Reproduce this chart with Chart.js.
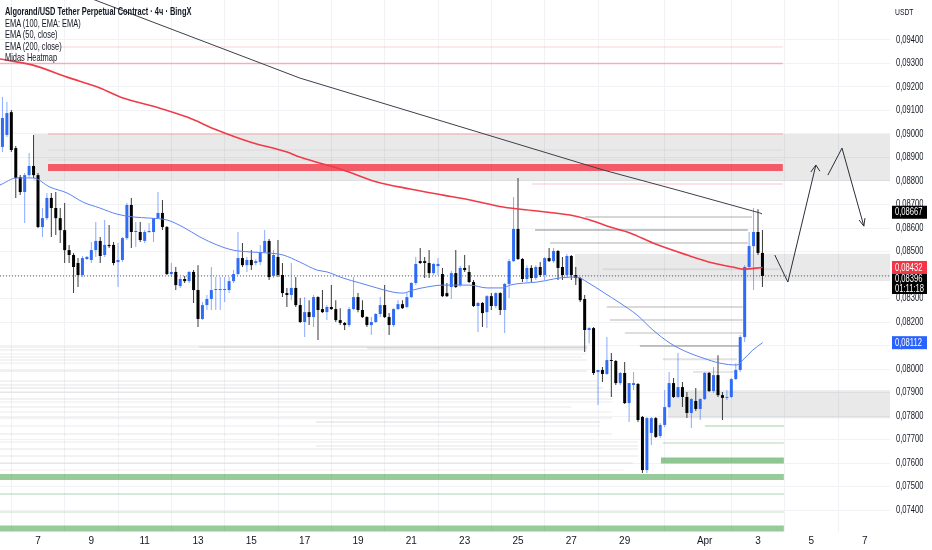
<!DOCTYPE html>
<html><head><meta charset="utf-8">
<script src="https://cdn.jsdelivr.net/npm/chart.js@4.4.1/dist/chart.umd.min.js"></script>
<style>
html,body{margin:0;padding:0;background:#fff;}
#wrap{position:relative;width:932px;height:550px;overflow:hidden;}
canvas{position:absolute;left:0;top:0;}
#legend{position:absolute;left:5px;top:6px;font-family:'Liberation Sans',Arial,sans-serif;font-size:10.2px;line-height:11.6px;color:#131722;transform:scaleX(0.73);transform-origin:0 0;white-space:nowrap;}
#legend .ttl{font-weight:bold;}
#usdt{position:absolute;left:895px;top:7px;font-family:'Liberation Sans',Arial,sans-serif;font-size:8.5px;color:#131722;transform:scaleX(0.8);transform-origin:0 0;}
</style></head>
<body><div id="wrap"><canvas id="c" width="932" height="550"></canvas>
<div id="legend">
<div class="ttl">Algorand/USD Tether Perpetual Contract · 4ч · BingX</div>
<div>EMA (100, EMA: EMA)</div>
<div>EMA (50, close)</div>
<div>EMA (200, close)</div>
<div>Midas Heatmap</div>
</div>
<div id="usdt">USDT</div>
</div>
<script>
// ---------- DATA ----------
// 4h candles, first candle opens at day 5.5 of March (x axis unit = day of March; Apr 1 = 32)
const firstCandleDay = 5.5;
const candleHours = 4;
const opens = [
0.08923,0.08945,0.08996,0.09093,0.08940,0.08817,0.08753,0.08825,0.08864,0.08825,
0.08604,0.08642,0.08728,0.08685,0.08642,0.08591,0.08506,0.08485,0.08451,0.08400,
0.08468,0.08464,0.08506,0.08545,0.08485,0.08528,0.08528,0.08455,0.08464,0.08557,
0.08698,0.08583,0.08583,0.08545,0.08583,0.08583,0.08642,0.08664,0.08604,0.08404,
0.08413,0.08353,0.08383,0.08374,0.08413,0.08336,0.08213,0.08272,0.08298,0.08336,
0.08336,0.08336,0.08336,0.08374,0.08404,0.08472,0.08442,0.08464,0.08451,0.08455,
0.08498,0.08545,0.08396,0.08477,0.08400,0.08323,0.08315,0.08345,0.08272,0.08200,
0.08242,0.08221,0.08306,0.08255,0.08242,0.08264,0.08255,0.08208,0.08196,0.08187,
0.08255,0.08306,0.08251,0.08221,0.08187,0.08200,0.08234,0.08272,0.08221,0.08187,
0.08255,0.08276,0.08264,0.08306,0.08366,0.08459,0.08459,0.08451,0.08408,0.08438,
0.08404,0.08323,0.08349,0.08408,0.08357,0.08430,0.08413,0.08370,0.08268,0.08281,
0.08242,0.08310,0.08268,0.08323,0.08251,0.08362,0.08459,0.08596,0.08468,0.08383,
0.08430,0.08387,0.08434,0.08400,0.08472,0.08459,0.08502,0.08434,0.08400,0.08481,
0.08400,0.08387,0.08298,0.08166,0.08174,0.07987,0.07996,0.07979,0.08038,0.08034,
0.07940,0.07983,0.07855,0.07932,0.07936,0.07796,0.07570,0.07728,0.07791,0.07715,
0.07762,0.07838,0.07940,0.07881,0.07923,0.07881,0.07813,0.07864,0.07830,0.07872,
0.07983,0.07906,0.07974,0.07889,0.07877,0.07881,0.07957,0.07996,0.08136,0.08434,
0.08523,0.08583,0.08494];
const highs = [
0.08996,0.09157,0.09136,0.09102,0.08949,0.08825,0.08834,0.08919,0.08996,0.08834,
0.08685,0.08749,0.08749,0.08753,0.08685,0.08706,0.08528,0.08494,0.08472,0.08481,
0.08481,0.08540,0.08625,0.08562,0.08634,0.08613,0.08540,0.08536,0.08562,0.08706,
0.08728,0.08625,0.08625,0.08591,0.08621,0.08642,0.08753,0.08719,0.08608,0.08451,
0.08434,0.08391,0.08396,0.08417,0.08421,0.08442,0.08285,0.08315,0.08434,0.08391,
0.08391,0.08391,0.08391,0.08421,0.08583,0.08536,0.08477,0.08506,0.08468,0.08528,
0.08591,0.08553,0.08506,0.08549,0.08451,0.08345,0.08451,0.08391,0.08302,0.08306,
0.08293,0.08315,0.08310,0.08336,0.08272,0.08357,0.08293,0.08259,0.08200,0.08264,
0.08391,0.08323,0.08293,0.08225,0.08221,0.08238,0.08306,0.08357,0.08238,0.08259,
0.08293,0.08293,0.08323,0.08370,0.08477,0.08515,0.08477,0.08506,0.08451,0.08472,
0.08430,0.08366,0.08417,0.08506,0.08438,0.08485,0.08442,0.08379,0.08285,0.08285,
0.08315,0.08323,0.08327,0.08327,0.08366,0.08468,0.08732,0.08813,0.08472,0.08442,
0.08442,0.08442,0.08455,0.08477,0.08515,0.08515,0.08506,0.08477,0.08489,0.08485,
0.08434,0.08391,0.08315,0.08179,0.08179,0.07996,0.08008,0.08136,0.08068,0.08038,
0.07987,0.08030,0.07940,0.07987,0.07940,0.07800,0.07796,0.07796,0.07796,0.07770,
0.07911,0.07987,0.07962,0.08068,0.07945,0.07902,0.07877,0.07919,0.07877,0.07987,
0.07987,0.08008,0.08059,0.07902,0.07911,0.07962,0.08025,0.08145,0.08442,0.08583,
0.08685,0.08680,0.08591];
const lows = [
0.08889,0.08923,0.08987,0.08923,0.08728,0.08740,0.08621,0.08817,0.08813,0.08600,
0.08562,0.08634,0.08562,0.08570,0.08536,0.08451,0.08451,0.08323,0.08349,0.08391,
0.08464,0.08451,0.08477,0.08451,0.08477,0.08515,0.08442,0.08349,0.08455,0.08549,
0.08515,0.08519,0.08540,0.08536,0.08579,0.08540,0.08638,0.08591,0.08400,0.08391,
0.08336,0.08345,0.08366,0.08366,0.08281,0.08179,0.08208,0.08251,0.08251,0.08251,
0.08251,0.08285,0.08323,0.08366,0.08400,0.08434,0.08413,0.08421,0.08442,0.08442,
0.08494,0.08379,0.08387,0.08391,0.08306,0.08264,0.08293,0.08264,0.08196,0.08136,
0.08187,0.08179,0.08123,0.08238,0.08208,0.08251,0.08200,0.08187,0.08166,0.08179,
0.08251,0.08242,0.08217,0.08179,0.08145,0.08196,0.08221,0.08217,0.08145,0.08179,
0.08251,0.08255,0.08259,0.08302,0.08357,0.08447,0.08387,0.08387,0.08400,0.08400,
0.08306,0.08306,0.08298,0.08345,0.08349,0.08413,0.08366,0.08264,0.08157,0.08179,
0.08174,0.08251,0.08259,0.08230,0.08153,0.08302,0.08455,0.08464,0.08370,0.08370,
0.08370,0.08379,0.08391,0.08379,0.08455,0.08451,0.08379,0.08379,0.08387,0.08379,
0.08357,0.08285,0.08072,0.08110,0.07974,0.07847,0.07945,0.07974,0.07881,0.07932,
0.07932,0.07851,0.07774,0.07911,0.07774,0.07557,0.07557,0.07677,0.07706,0.07706,
0.07753,0.07834,0.07877,0.07877,0.07838,0.07791,0.07749,0.07821,0.07783,0.07868,
0.07902,0.07898,0.07881,0.07783,0.07868,0.07877,0.07953,0.07987,0.08115,0.08430,
0.08336,0.08485,0.08349];
const closes = [
0.08974,0.09068,0.09089,0.08932,0.08813,0.08753,0.08825,0.08864,0.08825,0.08604,
0.08642,0.08728,0.08685,0.08642,0.08591,0.08506,0.08485,0.08434,0.08400,0.08472,
0.08477,0.08506,0.08545,0.08481,0.08528,0.08523,0.08451,0.08464,0.08557,0.08698,
0.08583,0.08587,0.08549,0.08583,0.08587,0.08642,0.08664,0.08604,0.08404,0.08413,
0.08357,0.08383,0.08374,0.08413,0.08336,0.08213,0.08272,0.08298,0.08336,0.08340,
0.08340,0.08340,0.08374,0.08404,0.08472,0.08442,0.08464,0.08442,0.08459,0.08498,
0.08545,0.08391,0.08485,0.08400,0.08323,0.08315,0.08345,0.08272,0.08200,0.08242,
0.08221,0.08306,0.08251,0.08242,0.08264,0.08255,0.08208,0.08196,0.08187,0.08255,
0.08306,0.08251,0.08221,0.08187,0.08200,0.08234,0.08272,0.08221,0.08187,0.08255,
0.08276,0.08259,0.08306,0.08366,0.08447,0.08451,0.08451,0.08408,0.08447,0.08447,
0.08310,0.08310,0.08408,0.08349,0.08430,0.08421,0.08370,0.08268,0.08281,0.08238,
0.08310,0.08268,0.08323,0.08251,0.08362,0.08459,0.08596,0.08468,0.08383,0.08430,
0.08387,0.08434,0.08400,0.08472,0.08459,0.08502,0.08430,0.08400,0.08481,0.08400,
0.08387,0.08293,0.08166,0.08174,0.07983,0.07996,0.07979,0.08038,0.08034,0.07940,
0.07983,0.07855,0.07940,0.07940,0.07783,0.07570,0.07791,0.07791,0.07711,0.07762,
0.07838,0.07940,0.07881,0.07923,0.07881,0.07813,0.07872,0.07830,0.07872,0.07983,
0.07906,0.07974,0.07889,0.07877,0.07881,0.07957,0.07996,0.08136,0.08434,0.08523,
0.08583,0.08494,0.08396];

// EMA lines (day, price)
const ema200Days = [5.575,6.81,8.09,9.32,10.19,11.57,12.59,13.71,14.95,16.34,16.82,18.44,19.71,20.95,22.19,23.20,24.44,25.71,26.95,27.70,28.45,29.20,30.06,31.34,32.31,33.21,33.43,34.17];
const ema200Vals = [0.09319,0.09293,0.09242,0.09196,0.09153,0.09110,0.09072,0.09017,0.08966,0.08923,0.08902,0.08847,0.08796,0.08766,0.08740,0.08719,0.08689,0.08672,0.08655,0.08634,0.08604,0.08579,0.08536,0.08485,0.08451,0.08430,0.08425,0.08432];
const ema50Days = [5.575,6.21,6.81,7.45,8.09,8.69,9.32,9.96,10.56,11.20,11.84,12.44,13.07,13.71,14.31,14.95,15.59,16.19,16.82,17.46,17.84,18.44,19.07,19.71,20.31,20.69,21.06,21.59,22.19,23.20,23.84,24.44,24.70,25.71,26.95,27.21,27.59,28.19,28.82,29.46,30.06,30.70,31.34,31.93,32.57,33.21,33.43,33.81,34.17];
const ema50Vals = [0.08783,0.08813,0.08813,0.08774,0.08749,0.08710,0.08685,0.08659,0.08647,0.08642,0.08634,0.08604,0.08562,0.08528,0.08506,0.08498,0.08494,0.08485,0.08455,0.08421,0.08413,0.08387,0.08366,0.08345,0.08327,0.08323,0.08336,0.08349,0.08357,0.08357,0.08345,0.08345,0.08357,0.08370,0.08391,0.08391,0.08370,0.08327,0.08281,0.08230,0.08166,0.08110,0.08072,0.08047,0.08025,0.08017,0.08038,0.08081,0.08112];

// Drawn trendline and projected path
const trendDays = [7.0,9.14,16.82,28.19,30.96,34.07,34.15];
const trendVals = [0.09660,0.09570,0.09238,0.08847,0.08762,0.08664,0.08660];
const pathUpDays = [34.63,35.12,36.17];
const pathUpVals = [0.08485,0.08370,0.08868];
const headUpDays = [35.98,36.17,36.32];
const headUpVals = [0.08838,0.08868,0.08842];
const pathDownDays = [36.62,37.15,37.97];
const pathDownVals = [0.08825,0.08940,0.08608];
const headDownDays = [37.79,37.97,38.01];
const headDownVals = [0.08634,0.08608,0.08642];

// Heatmap zones (top, bottom, from day, to day)
const zoneTop = [0.0900,0.0849,0.0791];
const zoneBottom = [0.0880,0.08375,0.0779];
const zoneFrom = [6.81,27.13,30.62];
const zoneTo = [38.95,38.95,38.95];

// Heatmap red (resistance) levels
const redPrices = [0.0937,0.0930,0.0900,0.08857,0.08787];
const redFrom = [7.0,5.575,7.375,7.375,25.52];
const redTo = [34.93,34.93,34.93,34.93,34.93];
const redStrength = [0.15,0.35,0.25,0.8,0.2];

// Heatmap green (support) levels
const greenPrices = [0.07757,0.07685,0.07611,0.07540,0.07468,0.07391,0.07321];
const greenFrom = [32.01,30.43,30.36,5.575,5.575,5.575,5.575];
const greenTo = [34.97,34.97,34.97,34.97,34.97,34.97,34.97];
const greenStrength = [0.25,0.2,0.6,0.55,0.22,0.15,0.55];

// Heatmap grey levels (right side)
const levelPrices = [0.08932,0.08889,0.08647,0.08591,0.08536,0.08425,0.08264,0.08208,0.08153,0.08098,0.08042,0.07987];
const levelFrom = [7.375,7.375,27.51,25.64,26.2,28.19,28.33,28.45,29.01,29.57,30.43,31.56];
const levelTo = [34.93,34.93,33.77,33.62,33.62,34.82,33.43,33.43,33.43,33.32,33.21,33.21];
const levelStrength = [0.05,0.05,0.22,0.32,0.22,0.1,0.2,0.2,0.18,0.32,0.16,0.13];

// Heatmap grey levels (lower left haze)
const heatPrices = [0.08094,0.08094,0.08088,0.08081,0.08064,0.08051,0.08038,0.08025,0.07991,0.07949,0.07932,0.07919,0.07902,0.07872,0.07860,0.07838,0.07817,0.07791,0.07774,0.07757,0.07723,0.07689,0.07672,0.07660,0.07630,0.07600,0.07570];
const heatFrom = [5.575,13.04,19.34,5.575,5.575,5.575,5.575,5.575,5.575,5.575,5.575,5.575,5.575,5.575,5.575,5.575,5.575,5.575,17.42,5.575,5.575,5.575,17.42,5.575,5.575,5.575,5.575];
const heatTo = [27.59,27.59,27.59,27.59,27.59,27.4,27.59,22.0,27.59,27.96,27.96,28.2,28.52,28.52,28.52,27.0,28.52,28.52,28.07,28.07,28.52,29.5,29.5,29.5,29.5,29.3,29.0];
const heatStrength = [0.07,0.10,0.12,0.07,0.05,0.06,0.07,0.06,0.09,0.07,0.08,0.09,0.07,0.08,0.06,0.07,0.06,0.08,0.10,0.06,0.07,0.06,0.08,0.07,0.07,0.07,0.05];

// Axis ticks
const xTickDays = [7,9,11,13,15,17,19,21,23,25,27,29,32,34,36,38];
const xTickLabels = ['7','9','11','13','15','17','19','21','23','25','27','29','Apr','3','5','7'];
const yTicks = [0.074,0.075,0.076,0.077,0.078,0.079,0.080,0.081,0.082,0.083,0.084,0.085,0.086,0.087,0.088,0.089,0.090,0.091,0.092,0.093,0.094];

// Right-scale tags
const trendNow = 0.08667;
const countdown = '01:11:18';

// ---------- CHART ----------
const X_MIN = 5.575, X_MAX = 38.95, Y_MIN = 0.073064, Y_MAX = 0.095702;
const FONT = "'Liberation Sans',Arial,sans-serif";
const SQUEEZE = 0.76;
Chart.defaults.font.family = FONT;
Chart.defaults.color = '#131722';

const times = opens.map((_, i) => firstCandleDay + i * candleHours / 24);
const isUp = opens.map((o, i) => closes[i] >= o);
const lastClose = closes[closes.length - 1];

const pts = (xs, ys) => xs.map((x, i) => ({x, y: ys[i]}));
const seg = (p, a, b) => [{x: a, y: p}, {x: b, y: p}];
const lineDS = (data, color, width, order, extra) => Object.assign({
  type: 'line', data, borderColor: color, borderWidth: width, pointRadius: 0,
  fill: false, order, borderCapStyle: 'butt', tension: 0
}, extra || {});

const datasets = [];
zoneTop.forEach((t, i) => datasets.push(lineDS(seg(t, zoneFrom[i], zoneTo[i]), 'rgba(0,0,0,0)', 0, 30,
  {fill: {value: zoneBottom[i]}, backgroundColor: 'rgba(0,0,0,0.085)'})));
heatPrices.forEach((p, i) => datasets.push(lineDS(seg(p, heatFrom[i], heatTo[i]), `rgba(90,90,90,${heatStrength[i]})`, 2, 25)));
levelPrices.forEach((p, i) => datasets.push(lineDS(seg(p, levelFrom[i], levelTo[i]), `rgba(70,70,70,${levelStrength[i]})`, 2, 24)));
redPrices.forEach((p, i) => datasets.push(lineDS(seg(p, redFrom[i], redTo[i]),
  `rgba(242,54,69,${redStrength[i]})`, redStrength[i] >= 0.5 ? 7 : 1.5, 23)));
greenPrices.forEach((p, i) => datasets.push(lineDS(seg(p, greenFrom[i], greenTo[i]),
  `rgba(67,160,71,${greenStrength[i]})`, greenStrength[i] >= 0.5 ? 6 : 2, 23)));
datasets.push(lineDS(seg(lastClose, X_MIN, X_MAX), '#5d606b', 1, 7, {borderDash: [1, 2]}));
datasets.push({type: 'bar', data: times.map((t, i) => ({x: t, y: [lows[i], highs[i]]})),
  backgroundColor: isUp.map(u => u ? 'rgba(41,98,255,0.55)' : '#3a3a3a'),
  maxBarThickness: 1, grouped: false, borderWidth: 0, order: 6});
datasets.push({type: 'bar', data: times.map((t, i) => ({x: t, y: [opens[i], closes[i]]})),
  backgroundColor: isUp.map(u => u ? '#2f6cf4' : '#000000'),
  maxBarThickness: 3, minBarLength: 1, grouped: false, borderWidth: 0, order: 5});
datasets.push(lineDS(pts(ema200Days, ema200Vals), '#ef3b48', 1.6, 2, {cubicInterpolationMode: 'monotone'}));
datasets.push(lineDS(pts(ema50Days, ema50Vals), '#5b82f2', 1, 2, {cubicInterpolationMode: 'monotone'}));
datasets.push(lineDS(pts(trendDays, trendVals), '#3c3f47', 1, 1));
datasets.push(lineDS(pts(pathUpDays, pathUpVals), '#2a2e39', 1, 1));
datasets.push(lineDS(pts(headUpDays, headUpVals), '#2a2e39', 1, 1));
datasets.push(lineDS(pts(pathDownDays, pathDownVals), '#2a2e39', 1, 1));
datasets.push(lineDS(pts(headDownDays, headDownVals), '#2a2e39', 1, 1));

const fmt = v => v.toFixed(5).replace('.', ',');

// narrow the price-scale labels (the reference text is horizontally condensed)
const narrowPlugin = {
  id: 'narrow',
  beforeDraw(chart) {
    const ys = chart.scales.y;
    if (ys._narrowed) return;
    const orig = ys.drawLabels;
    ys.drawLabels = function (area) {
      const c = this.ctx, x0 = this.left + 6;
      c.save(); c.translate(x0, 0); c.scale(SQUEEZE, 1); c.translate(-x0, 0);
      orig.call(this, area);
      c.restore();
    };
    ys._narrowed = true;
  }
};

const tagPlugin = {
  id: 'tags',
  afterDraw(chart) {
    const {ctx, chartArea, scales: {y}} = chart;
    const tags = [
      {value: trendNow, bg: '#000000', lines: [fmt(trendNow)]},
      {value: ema200Vals[ema200Vals.length - 1], bg: '#f23645', lines: [fmt(ema200Vals[ema200Vals.length - 1])]},
      {value: lastClose, bg: '#000000', lines: [fmt(lastClose), countdown]},
      {value: ema50Vals[ema50Vals.length - 1], bg: '#2962ff', lines: [fmt(ema50Vals[ema50Vals.length - 1])]}
    ].map(t => Object.assign(t, {py: y.getPixelForValue(t.value)})).sort((a, b) => a.py - b.py);
    let prevBottom = -Infinity;
    const tx = chartArea.right + 5;
    ctx.save();
    tags.forEach(t => {
      const h = 13 + (t.lines.length - 1) * 7;
      const top = Math.max(t.py - 6.5, prevBottom);
      ctx.fillStyle = t.bg;
      ctx.fillRect(chartArea.right + 2, top, 35, h);
      ctx.save();
      ctx.translate(tx, 0); ctx.scale(SQUEEZE, 1); ctx.translate(-tx, 0);
      ctx.font = "10px " + FONT;
      ctx.textBaseline = 'middle';
      ctx.textAlign = 'left';
      ctx.fillStyle = '#ffffff';
      const lh = t.lines.length > 1 ? 9.5 : 0;
      t.lines.forEach((l, k) => ctx.fillText(l, tx, top + (t.lines.length > 1 ? 5.3 : 6.8) + k * lh));
      ctx.restore();
      prevBottom = top + h;
    });
    ctx.restore();
  }
};

new Chart(document.getElementById('c'), {
  type: 'bar',
  data: {datasets},
  plugins: [narrowPlugin, tagPlugin],
  options: {
    responsive: false, animation: false, events: [],
    layout: {padding: 0},
    plugins: {legend: {display: false}, tooltip: {enabled: false}, title: {display: false}},
    scales: {
      x: {
        type: 'linear', min: X_MIN, max: X_MAX, offset: false, bounds: 'data',
        grid: {color: '#f0f2f6', drawTicks: false, lineWidth: 1},
        border: {display: false},
        ticks: {autoSkip: false, maxRotation: 0, padding: 3, font: {size: 10}, color: '#131722',
          callback: (v, i) => xTickLabels[i]},
        afterBuildTicks: s => { s.ticks = xTickDays.map(v => ({value: v})); },
        afterFit: s => { s.height = 18; s.paddingLeft = 0; s.paddingRight = 0; }
      },
      y: {
        type: 'linear', position: 'right', min: Y_MIN, max: Y_MAX, bounds: 'data',
        grid: {color: '#f0f2f6', drawTicks: false, lineWidth: 1},
        border: {display: false},
        ticks: {autoSkip: false, padding: 6, font: {size: 10}, color: '#131722',
          callback: v => fmt(v)},
        afterBuildTicks: s => { s.ticks = yTicks.map(v => ({value: v})); },
        afterFit: s => { s.width = 42; s.paddingTop = 0; s.paddingBottom = 0; }
      }
    }
  }
});
</script>
</body></html>
